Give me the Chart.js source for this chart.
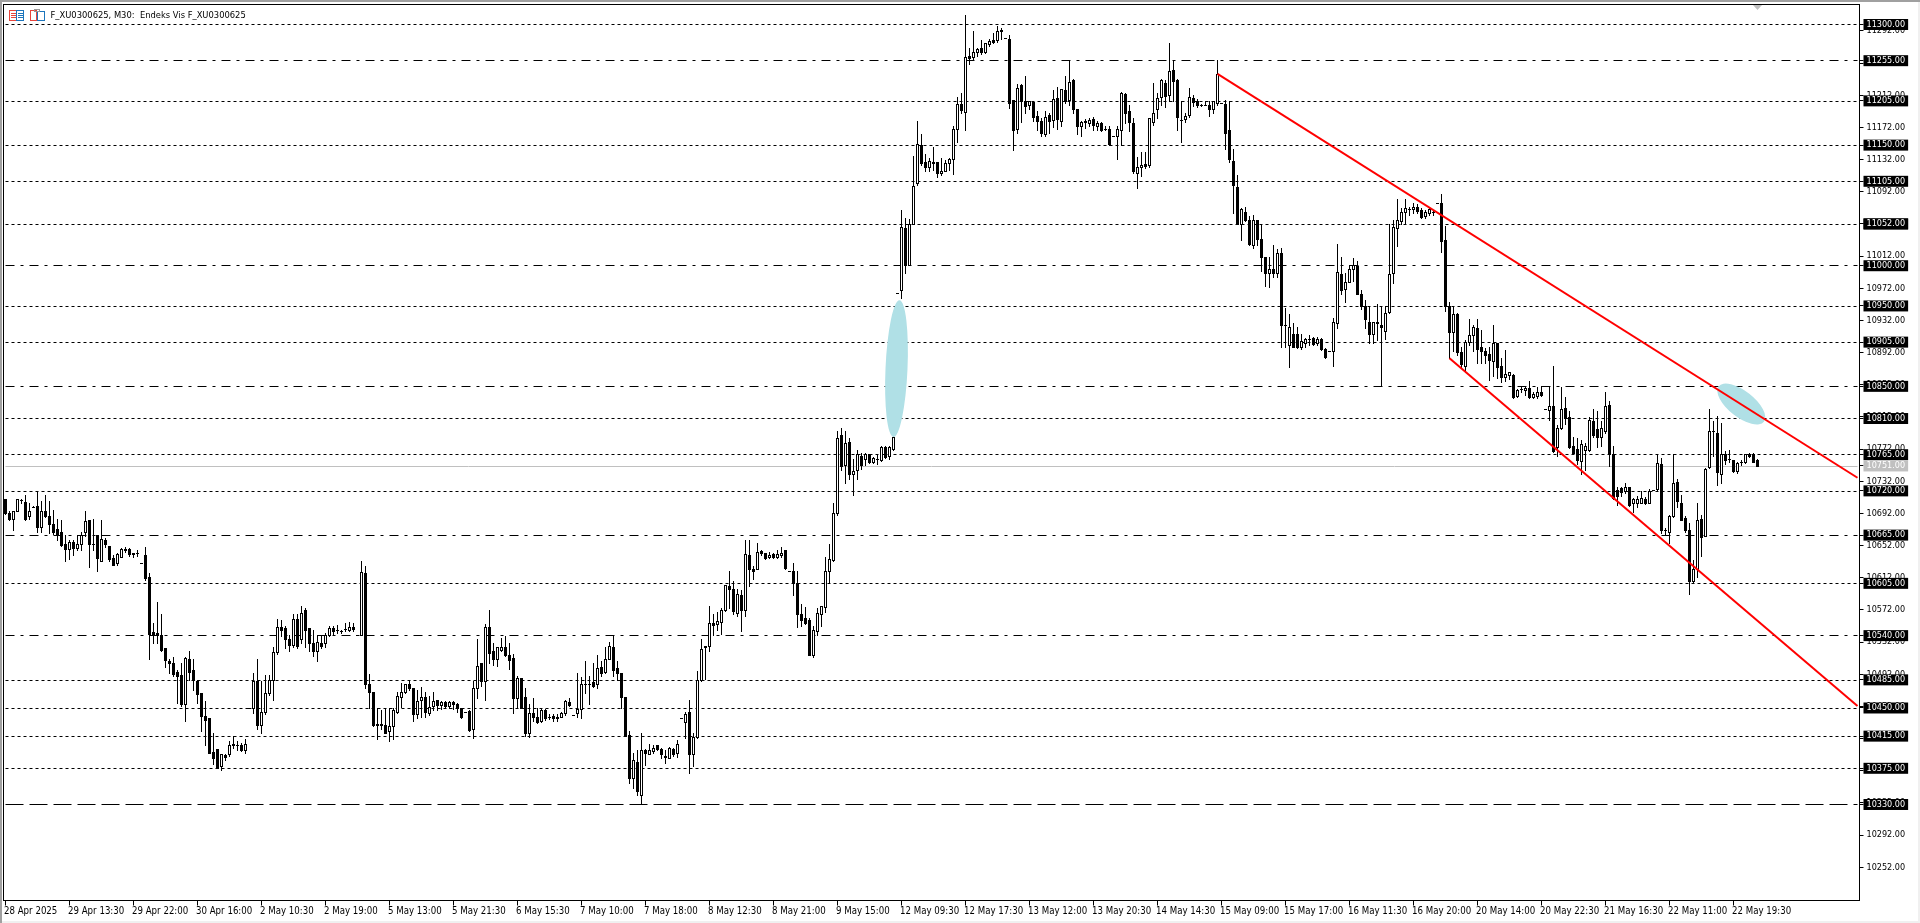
<!DOCTYPE html>
<html>
<head>
<meta charset="utf-8">
<title>F_XU0300625, M30</title>
<script src="https://cdn.jsdelivr.net/npm/chart.js@4"></script>
<style>
  html { background: #fff; }
  body { margin: 0; width: 1920px; height: 923px; overflow: hidden;
         box-shadow: inset 2px 2px 0 #a0a0a0, inset -2px -2px 0 #f0f0f0; }
  canvas { display: block; }
</style>
</head>
<body>
<canvas id="chart" width="1920" height="923"></canvas>
<script>
(() => {
  // Candles
  const opens = [
    10709,10692,10685,10694,10708,10706,10688,10700,10701,10675,
    10694,10689,10679,10672,10669,10653,10647,10656,10648,10654,
    10669,10683,10653,10665,10633,10659,10651,10636,10630,10638,
    10647,10647,10643,10643,10630,10640,10612,10544,10543,10540,
    10524,10508,10505,10494,10491,10454,10510,10497,10483,10468,
    10440,10437,10395,10399,10377,10391,10392,10405,10404,10404,
    10397,10450,10450,10483,10429,10445,10468,10485,10519,10550,
    10549,10535,10528,10560,10535,10571,10549,10531,10520,10531,
    10530,10540,10549,10547,10546,10548,10547,10550,10540,10541,
    10617,10480,10469,10430,10430,10429,10421,10427,10445,10463,
    10469,10480,10474,10442,10459,10463,10443,10452,10459,10453,
    10457,10452,10457,10455,10450,10445,10446,10423,10474,10505,
    10483,10550,10520,10510,10522,10525,10515,10512,10462,10487,
    10463,10418,10443,10439,10434,10447,10439,10440,10437,10439,
    10443,10457,10441,10443,10448,10480,10480,10482,10479,10501,
    10494,10510,10525,10499,10493,10463,10416,10363,10382,10342,
    10397,10393,10396,10403,10399,10390,10387,10399,10394,10437,
    10432,10445,10392,10414,10484,10527,10527,10555,10554,10557,
    10571,10601,10598,10568,10590,10572,10640,10623,10622,10645,
    10642,10637,10641,10637,10640,10646,10620,10620,10605,10566,
    10561,10559,10515,10545,10566,10575,10620,10634,10692,10789,
    10752,10780,10741,10745,10763,10759,10765,10755,10759,10758,
    10774,10763,10772,10966,10970,11047,11000,11052,11102,11150,
    11129,11123,11129,11129,11115,11118,11128,11132,11170,11201,
    11191,11261,11259,11266,11270,11266,11275,11280,11280,11293,
    11283,11282,11206,11170,11224,11204,11199,11203,11186,11180,
    11164,11187,11181,11208,11179,11218,11206,11231,11194,11174,
    11180,11177,11182,11173,11177,11170,11170,11161,11161,11168,
    11213,11192,11177,11115,11122,11126,11125,11178,11195,11210,
    11227,11212,11243,11231,11181,11182,11187,11208,11205,11200,
    11200,11200,11194,11202,11202,11201,11168,11130,11098,11052,
    11066,11057,11026,11057,11033,11010,10990,10996,10991,11015,
    10926,10901,10915,10915,10899,10904,10909,10910,10903,10908,
    10896,10894,10893,10928,10989,10971,10980,10995,10999,10965,
    10949,10930,10915,10930,10926,10919,10942,10990,11046,11055,
    11067,11070,11070,11073,11069,11062,11065,11067,11078,11078,
    11032,10949,10917,10940,10892,10875,10905,10913,10922,10898,
    10894,10890,10881,10903,10875,10861,10864,10864,10838,10846,
    10845,10847,10837,10838,10843,10822,10820,10825,10774,10798,
    10823,10812,10775,10772,10757,10770,10771,10807,10797,10787,
    10794,10826,10765,10721,10723,10719,10724,10704,10705,10705,
    10710,10705,10721,10722,10753,10671,10669,10688,10731,10705,
    10686,10671,10608,10622,10685,10663,10749,10794,10792,10741,
    10765,10759,10758,10744,10755,10755,10765,10765,10758
  ]
  const highs = [
    10709,10694,10695,10710,10710,10715,10705,10701,10719,10707,
    10714,10707,10696,10685,10683,10665,10659,10659,10665,10668,
    10695,10684,10685,10665,10684,10661,10651,10640,10642,10649,
    10650,10648,10643,10646,10630,10650,10617,10555,10581,10566,
    10524,10510,10513,10497,10506,10513,10520,10510,10485,10468,
    10458,10437,10418,10399,10392,10392,10408,10415,10408,10406,
    10411,10450,10493,10510,10483,10491,10491,10525,10560,10559,
    10551,10541,10567,10567,10577,10574,10549,10547,10540,10541,
    10543,10551,10551,10553,10547,10555,10556,10555,10540,10633,
    10626,10492,10469,10450,10447,10450,10450,10450,10470,10481,
    10480,10485,10474,10472,10476,10470,10464,10469,10460,10458,
    10458,10458,10458,10456,10450,10445,10447,10483,10535,10506,
    10554,10571,10531,10525,10537,10539,10530,10517,10489,10487,
    10474,10455,10462,10450,10448,10448,10442,10442,10442,10445,
    10460,10462,10441,10493,10488,10508,10489,10505,10515,10508,
    10526,10532,10540,10508,10493,10463,10421,10394,10398,10418,
    10399,10405,10404,10404,10400,10398,10401,10400,10410,10437,
    10445,10459,10418,10496,10535,10527,10577,10566,10569,10574,
    10602,10620,10607,10597,10596,10659,10659,10626,10655,10646,
    10643,10644,10643,10646,10650,10646,10620,10630,10620,10579,
    10575,10561,10552,10574,10577,10637,10654,10704,10794,10798,
    10794,10785,10759,10771,10767,10767,10766,10762,10766,10776,
    10775,10775,10792,10966,11069,11059,11058,11136,11179,11163,
    11139,11134,11147,11129,11134,11131,11134,11173,11209,11215,
    11311,11270,11291,11270,11280,11277,11282,11289,11298,11295,
    11283,11287,11206,11226,11226,11236,11204,11204,11192,11183,
    11192,11189,11218,11222,11219,11236,11255,11232,11195,11180,
    11182,11183,11185,11179,11178,11173,11174,11161,11174,11216,
    11214,11200,11183,11135,11141,11141,11183,11227,11214,11232,
    11231,11276,11256,11232,11205,11189,11221,11212,11207,11201,
    11204,11204,11205,11255,11202,11206,11204,11145,11112,11071,
    11073,11062,11063,11057,11052,11011,11011,11026,11020,11022,
    10947,10940,10928,10924,10915,10910,10913,10911,10911,10910,
    10897,10894,10935,11027,11011,10990,11001,11009,11005,10969,
    10957,10949,10930,10952,10949,10950,11052,11056,11082,11071,
    11082,11073,11078,11076,11071,11069,11071,11069,11078,11089,
    11049,10954,10950,10941,10898,10907,10933,10926,10933,10920,
    10897,10899,10926,10904,10885,10895,10868,10865,10846,10849,
    10849,10856,10843,10849,10850,10822,10850,10875,10801,10849,
    10836,10819,10787,10785,10783,10779,10812,10821,10819,10807,
    10843,10831,10776,10725,10725,10729,10725,10711,10713,10719,
    10712,10722,10721,10766,10760,10673,10690,10765,10734,10715,
    10688,10680,10634,10704,10690,10748,10822,10807,10813,10804,
    10769,10771,10758,10756,10758,10766,10767,10767,10759
  ]
  const lows = [
    10691,10684,10671,10694,10704,10683,10685,10699,10668,10669,
    10687,10667,10666,10659,10651,10632,10635,10640,10646,10646,
    10664,10625,10646,10620,10632,10650,10633,10627,10628,10637,
    10644,10639,10638,10639,10630,10609,10511,10530,10530,10520,
    10501,10493,10490,10456,10452,10434,10484,10472,10456,10421,
    10404,10394,10380,10375,10373,10385,10390,10400,10397,10396,
    10394,10450,10443,10423,10418,10442,10466,10460,10517,10539,
    10524,10521,10526,10524,10530,10526,10520,10514,10508,10524,
    10526,10539,10540,10543,10543,10545,10546,10546,10540,10540,
    10475,10450,10427,10411,10423,10418,10409,10411,10443,10451,
    10468,10472,10433,10437,10439,10439,10441,10447,10447,10448,
    10450,10450,10448,10445,10437,10445,10421,10412,10462,10477,
    10460,10506,10503,10502,10520,10514,10498,10444,10450,10450,
    10415,10414,10433,10431,10432,10435,10436,10434,10434,10438,
    10441,10452,10441,10438,10437,10468,10454,10476,10474,10489,
    10493,10510,10489,10485,10450,10415,10356,10350,10342,10331,
    10379,10392,10394,10398,10387,10381,10387,10390,10389,10437,
    10412,10369,10377,10412,10483,10486,10521,10541,10547,10542,
    10570,10574,10566,10564,10545,10564,10601,10610,10622,10640,
    10635,10636,10636,10636,10638,10622,10620,10590,10550,10551,
    10554,10516,10513,10541,10551,10569,10605,10632,10690,10746,
    10730,10734,10714,10734,10747,10752,10754,10754,10753,10757,
    10760,10759,10771,10966,10959,10991,11000,11051,11100,11125,
    11117,11117,11119,11110,11113,11117,11119,11114,11153,11190,
    11169,11251,11257,11260,11263,11264,11273,11277,11278,11281,
    11283,11196,11144,11165,11178,11190,11195,11179,11169,11161,
    11161,11165,11172,11170,11173,11202,11199,11190,11163,11161,
    11171,11174,11168,11168,11167,11169,11150,11161,11132,11150,
    11177,11167,11115,11096,11111,11121,11123,11175,11183,11199,
    11197,11204,11204,11169,11154,11178,11185,11198,11197,11198,
    11199,11186,11190,11199,11202,11145,11129,11065,11052,11032,
    11055,11026,11022,11026,10993,10975,10973,10986,10986,10899,
    10899,10874,10898,10897,10896,10899,10901,10901,10901,10895,
    10885,10894,10875,10922,10964,10954,10979,10981,10964,10946,
    10922,10904,10903,10907,10850,10908,10941,10978,11024,11051,
    11053,11063,11065,11065,11059,11059,11063,11063,11078,11017,
    10943,10885,10893,10889,10874,10870,10901,10893,10879,10879,
    10879,10858,10862,10860,10855,10856,10859,10835,10836,10842,
    10839,10835,10835,10835,10838,10822,10808,10768,10763,10796,
    10803,10773,10766,10753,10741,10746,10769,10787,10774,10775,
    10792,10751,10709,10702,10713,10717,10701,10693,10700,10704,
    10703,10704,10721,10721,10667,10665,10655,10687,10700,10683,
    10669,10591,10606,10613,10639,10663,10748,10763,10727,10729,
    10753,10756,10743,10742,10752,10754,10762,10755,10750
  ]
  const closes = [
    10692,10685,10695,10710,10708,10685,10695,10700,10675,10695,
    10688,10678,10669,10666,10652,10647,10656,10648,10654,10665,
    10682,10653,10653,10636,10660,10653,10635,10628,10641,10647,
    10646,10641,10641,10642,10630,10611,10542,10541,10540,10522,
    10509,10505,10492,10489,10454,10512,10495,10484,10467,10440,
    10435,10394,10387,10375,10392,10389,10404,10403,10403,10398,
    10405,10450,10483,10429,10445,10468,10484,10519,10550,10547,
    10535,10528,10560,10527,10568,10547,10531,10520,10532,10527,
    10541,10549,10545,10547,10546,10548,10550,10548,10540,10619,
    10479,10469,10428,10428,10428,10419,10427,10447,10465,10470,
    10480,10474,10442,10458,10463,10445,10451,10458,10453,10457,
    10452,10457,10454,10450,10439,10445,10422,10474,10502,10483,
    10550,10518,10510,10525,10525,10515,10509,10462,10487,10450,
    10418,10443,10438,10432,10447,10437,10439,10437,10439,10444,
    10458,10453,10441,10448,10480,10480,10480,10477,10499,10493,
    10510,10527,10497,10493,10463,10415,10363,10385,10346,10398,
    10394,10397,10400,10399,10392,10389,10400,10393,10405,10437,
    10442,10392,10414,10485,10523,10525,10555,10553,10558,10572,
    10602,10598,10570,10591,10571,10641,10622,10620,10644,10643,
    10636,10640,10637,10641,10643,10624,10620,10605,10566,10559,
    10555,10516,10547,10568,10577,10620,10635,10692,10785,10751,
    10779,10741,10744,10765,10752,10765,10755,10760,10759,10774,
    10762,10774,10787,10966,11048,11001,11052,11099,11151,11127,
    11123,11130,11127,11115,11118,11128,11132,11170,11201,11193,
    11259,11258,11266,11269,11266,11277,11279,11278,11291,11291,
    11283,11202,11168,11221,11205,11198,11204,11185,11179,11165,
    11185,11179,11207,11182,11219,11205,11228,11194,11174,11178,
    11178,11181,11175,11177,11168,11170,11151,11161,11170,11214,
    11190,11178,11117,11123,11125,11124,11183,11190,11208,11231,
    11211,11242,11229,11185,11181,11186,11209,11203,11200,11200,
    11200,11195,11204,11238,11202,11165,11132,11100,11052,11070,
    11056,11027,11057,11033,11011,10991,10995,10991,11015,10926,
    10926,10924,10899,10898,10906,10908,10909,10902,10908,10896,
    10886,10894,10930,10992,10970,10979,10995,11000,10965,10949,
    10933,10915,10930,10928,10923,10941,10989,11048,11057,11067,
    11071,11070,11073,11068,11060,11066,11070,11067,11078,11031,
    10950,10917,10940,10892,10877,10905,10914,10923,10896,10893,
    10888,10882,10904,10874,10861,10865,10867,10837,10845,10846,
    10847,10836,10840,10842,10839,10822,10825,10769,10798,10821,
    10810,10774,10767,10758,10778,10776,10808,10789,10787,10798,
    10825,10766,10711,10713,10718,10724,10702,10710,10709,10711,
    10704,10720,10721,10754,10671,10671,10689,10729,10707,10684,
    10671,10608,10622,10684,10662,10747,10794,10794,10743,10766,
    10758,10759,10744,10754,10755,10765,10763,10756,10751
  ]

  const tickLabels = [
    '28 Apr 2025', '29 Apr 13:30', '29 Apr 22:00', '30 Apr 16:00', '2 May 10:30', '2 May 19:00', '5 May 13:00',
    '5 May 21:30', '6 May 15:30', '7 May 10:00', '7 May 18:00', '8 May 12:30', '8 May 21:00', '9 May 15:00',
    '12 May 09:30', '12 May 17:30', '13 May 12:00', '13 May 20:30', '14 May 14:30', '15 May 09:00', '15 May 17:00',
    '16 May 11:30', '16 May 20:00', '20 May 14:00', '20 May 22:30', '21 May 16:30', '22 May 11:00', '22 May 19:30'
  ]
  const priceTicks = [
    11292, 11252, 11212, 11172, 11132, 11092, 11052, 11012, 10972, 10932, 10892, 10852, 10812, 10772,
    10732, 10692, 10652, 10612, 10572, 10532, 10492, 10452, 10412, 10372, 10332, 10292, 10252
  ]

  // Horizontal levels drawn on the chart
  const dottedLevels = [11300, 11205, 11150, 11105, 11052, 10950, 10905, 10810, 10765, 10720, 10605, 10485, 10450, 10415, 10375]
  const dashDotLevels = [11255, 11000, 10850, 10665, 10540]
  const dashLevels = [10330]
  const bidPrice = 10751

  // Channel, [bar, price] at both ends
  const upperTrend = [[303, 11238.5], [463, 10736.3]]
  const lowerTrend = [[361, 10885], [463, 10452.5]]
  // Ellipses: both ends of the long axis in [bar, price]
  const ellipses = [
    [[223.5, 10957], [222, 10787]],
    [[428.3, 10850], [439.6, 10806]]
  ]
  const ellipseWidths = [22, 26]

  const title = 'F_XU0300625, M30:  Endeks Vis F_XU0300625'
  const slotCount = 464
  const ticksEvery = 16
  const priceMin = 10210.6
  const priceMax = 11324.87

  const fontFamily = '"DejaVu Sans Condensed", "Liberation Sans", sans-serif'
  const levels = [...dottedLevels, ...dashDotLevels, ...dashLevels, bidPrice]
  const isLevel = ctx => levels.includes(ctx.tick && ctx.tick.value)

  const slotLabels = Array.from({ length: slotCount }, (_, i) => tickLabels[i / ticksEvery] || '')

  function sparseSeries(points) {
    const series = Array(slotCount).fill(null)
    points.forEach(([bar, price]) => { series[bar] = price })
    return series
  }

  function levelLine(price, dash, color) {
    return {
      type: 'line',
      order: 4,
      data: sparseSeries([[0, price], [slotCount - 1, price]]),
      spanGaps: true,
      borderColor: color,
      borderWidth: 1,
      borderDash: dash,
      pointRadius: 0,
      isLevel: true
    }
  }

  function trendLine(points) {
    return {
      type: 'line',
      order: 1,
      data: sparseSeries(points),
      spanGaps: true,
      borderColor: '#ff0000',
      borderWidth: 2,
      pointRadius: 0
    }
  }

  // Snap marks to whole pixel rows, the reference has no anti-aliasing on them
  const toRow = y => Math.floor(y + 0.2)
  const crispMarks = {
    id: 'crispMarks',
    afterDatasetsUpdate(chart) {
      chart.data.datasets.forEach((ds, ix) => {
        const meta = chart.getDatasetMeta(ix)
        if (ds.isLevel) {
          meta.data.forEach(pt => { pt.y = toRow(pt.y) + 0.5 })
        } else if (ds.type === 'bar') {
          meta.data.forEach(bar => {
            const top = toRow(Math.min(bar.y, bar.base))
            const bottom = toRow(Math.max(bar.y, bar.base)) + 1
            bar.y = top
            bar.base = bottom
            bar.height = bottom - top
          })
        }
      })
    }
  }

  const ellipseLayer = {
    id: 'ellipseLayer',
    beforeDatasetDraw(chart, args) {
      if (args.index !== chart.data.datasets.length - 1) return
      const { x, y } = chart.scales
      const { ctx } = chart
      ctx.save()
      ctx.fillStyle = '#b0e0e6'
      ellipses.forEach(([a, b], ix) => {
        const ax = x.getPixelForValue(a[0]), ay = y.getPixelForValue(a[1])
        const bx = x.getPixelForValue(b[0]), by = y.getPixelForValue(b[1])
        const len = Math.hypot(bx - ax, by - ay)
        ctx.beginPath()
        ctx.ellipse((ax + bx) / 2, (ay + by) / 2, len / 2, ellipseWidths[ix] / 2, Math.atan2(by - ay, bx - ax), 0, Math.PI * 2)
        ctx.fill()
      })
      ctx.restore()
    }
  }

  const frame = {
    id: 'frame',
    afterDraw(chart) {
      const { ctx, chartArea: a } = chart
      ctx.save()
      ctx.strokeStyle = '#000'
      ctx.lineWidth = 1
      ctx.strokeRect(a.left, a.top, a.right - a.left, a.bottom - a.top)

      // chart shift marker, last bar
      ctx.fillStyle = '#c0c0c0'
      ctx.beginPath()
      const mx = chart.scales.x.getPixelForValue(opens.length - 1)
      ctx.moveTo(mx - 4.5, a.top + 0.5)
      ctx.lineTo(mx + 4.5, a.top + 0.5)
      ctx.lineTo(mx, a.top + 5.5)
      ctx.fill()

      // window icons
      ctx.strokeStyle = '#e8453c'
      ctx.strokeRect(9.5, 10.5, 7, 10)
      ctx.fillStyle = '#e8453c'
      ctx.fillRect(11, 13, 5, 1); ctx.fillRect(11, 15, 5, 1); ctx.fillRect(11, 17, 5, 1)
      ctx.strokeRect(30.5, 10.5, 6, 10)
      ctx.strokeStyle = '#1c75bc'
      ctx.strokeRect(16.5, 10.5, 7, 10)
      ctx.fillStyle = '#1c75bc'
      ctx.fillRect(18, 13, 5, 1); ctx.fillRect(18, 15, 5, 1); ctx.fillRect(18, 17, 5, 1)
      ctx.strokeRect(37.5, 11.5, 7, 9)
      ctx.strokeStyle = '#999'
      ctx.strokeRect(34.5, 9.5, 5, 2)

      ctx.fillStyle = '#000'
      ctx.font = '9.3px ' + fontFamily
      ctx.textBaseline = 'middle'
      ctx.textAlign = 'left'
      ctx.fillText(title, 50.5, 15.5)
      ctx.restore()
    }
  }

  new Chart(document.getElementById('chart'), {
    type: 'bar',
    data: {
      labels: slotLabels,
      datasets: [
        ...dottedLevels.map(p => levelLine(p, [3, 3], '#000')),
        ...dashDotLevels.map(p => levelLine(p, [9, 6, 3, 6], '#000')),
        ...dashLevels.map(p => levelLine(p, [18, 6], '#000')),
        levelLine(bidPrice, [], '#c0c0c0'),
        {
          type: 'bar',
          order: 3,
          data: lows.map((l, i) => [l, highs[i]]),
          backgroundColor: '#000',
          barThickness: 1,
          grouped: false,
          inflateAmount: 0,
          borderWidth: 0
        },
        {
          type: 'bar',
          order: 2,
          data: opens.map((o, i) => [o, closes[i]]),
          backgroundColor: ctx => closes[ctx.dataIndex] > opens[ctx.dataIndex] ? '#fff' : '#000',
          borderColor: '#000',
          borderWidth: 1,
          borderSkipped: false,
          barThickness: 3,
          grouped: false,
          inflateAmount: 0
        },
        trendLine(upperTrend),
        trendLine(lowerTrend)
      ]
    },
    plugins: [crispMarks, ellipseLayer, frame],
    options: {
      responsive: false,
      animation: false,
      events: [],
      layout: { padding: { left: 3.5, top: 4.5, right: 0, bottom: 0 } },
      plugins: {
        legend: { display: false },
        tooltip: { enabled: false }
      },
      scales: {
        x: {
          type: 'category',
          offset: true,
          grid: { offset: false, drawOnChartArea: false, drawTicks: true, tickLength: 5, tickColor: '#000' },
          border: { display: false },
          afterBuildTicks: s => { s.ticks = s.ticks.filter(t => t.value % ticksEvery === 0 && tickLabels[t.value / ticksEvery]) },
          afterFit: s => { s.height = 22.5; s.paddingLeft = 0; s.paddingRight = 0 },
          ticks: {
            autoSkip: false,
            maxRotation: 0,
            align: 'start',
            labelOffset: -1.5,
            padding: 0,
            color: '#000',
            font: { family: fontFamily, size: 9.6, lineHeight: 1.2 },
            callback(v) { return this.getLabelForValue(v) }
          }
        },
        y: {
          position: 'right',
          min: priceMin,
          max: priceMax,
          grid: { drawOnChartArea: false, drawTicks: true, tickLength: 4, tickColor: '#000' },
          border: { display: false },
          afterBuildTicks: s => { s.ticks = [...priceTicks, ...levels].map(value => ({ value })) },
          afterFit: s => { s.width = 60.5; s.paddingTop = 0; s.paddingBottom = 0 },
          ticks: {
            autoSkip: false,
            padding: 3,
            crossAlign: 'near',
            font: { family: fontFamily, size: 9, lineHeight: 1.22 },
            color: ctx => isLevel(ctx) ? '#fff' : '#000',
            showLabelBackdrop: isLevel,
            backdropColor: ctx => ctx.tick && ctx.tick.value === bidPrice ? '#c0c0c0' : '#000',
            backdropPadding: { left: 3, right: 3, top: 0, bottom: 0 },
            callback: v => v.toFixed(2)
          }
        }
      }
    }
  })
})()
</script>
</body>
</html>
